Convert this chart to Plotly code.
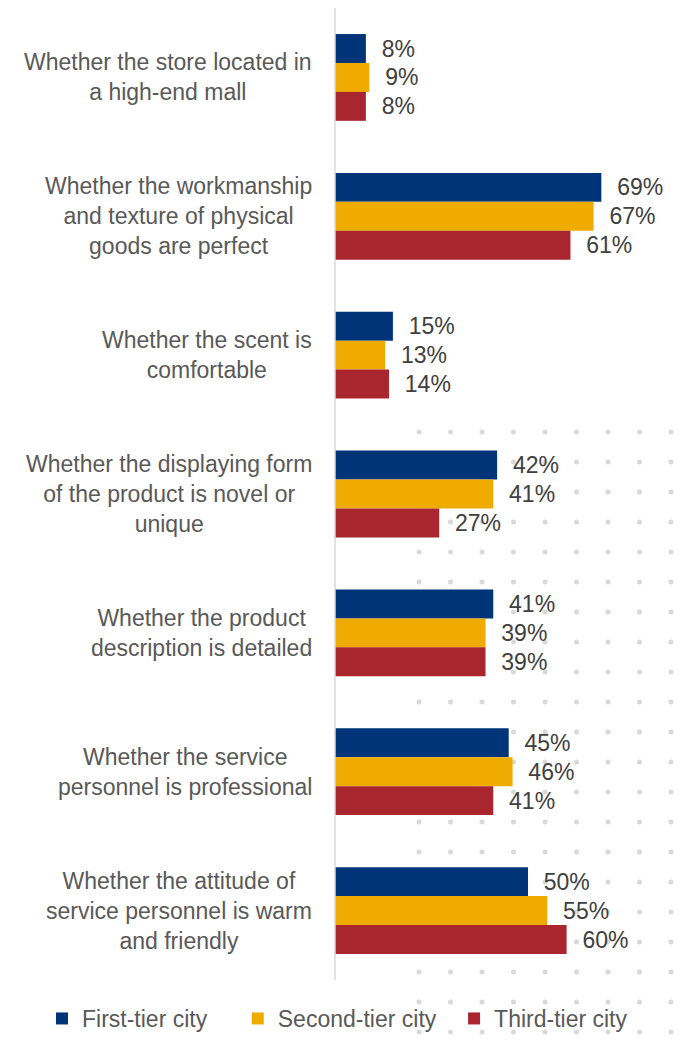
import plotly.graph_objects as go

categories = [
    "Whether the store located in<br>a high-end mall",
    "Whether the workmanship<br>and texture of physical<br>goods are perfect",
    "Whether the scent is<br>comfortable",
    "Whether the displaying form<br>of the product is novel or<br>unique",
    "Whether the product<br>description is detailed",
    "Whether the service<br>personnel is professional",
    "Whether the attitude of<br>service personnel is warm<br>and friendly",
]
first_tier = [8, 69, 15, 42, 41, 45, 50]
second_tier = [8.9, 67, 13, 41, 39, 46, 55]
third_tier = [8, 61, 14, 27, 39, 41, 60]
second_labels = [9, 67, 13, 41, 39, 46, 55]

series = [
    ("First-tier city", first_tier, first_tier, "#003478", 4),
    ("Second-tier city", second_tier, second_labels, "#F0AB00", 2),
    ("Third-tier city", third_tier, third_tier, "#A9262F", 2),
]

# page is offset by the 8px body margin, so the figure is a bit smaller
OFF = 8
W, H = 682 - OFF, 1040 - OFF
ml, mr, mt, mb = 335 - OFF, 7, 8 - OFF, 60
pw = W - ml - mr
ph = H - mt - mb
FONT = "Liberation Sans, Arial, sans-serif"

fig = go.Figure()
for name, vals, labs, col, pad in series:
    fig.add_trace(go.Bar(
        y=list(range(len(categories))), x=vals, name=name + "\u00a0" * pad, orientation="h",
        marker=dict(color=col, line=dict(width=0)),
        text=["\u00a0\u00a0" + str(v) + "%" for v in labs],
        textposition="outside", cliponaxis=False,
        textfont=dict(family=FONT, size=23, color="#404040"),
    ))

# category labels, centred lines like the original
for i, c in enumerate(categories):
    fig.add_annotation(x=0, xref="paper", y=i, yref="y", text=c, showarrow=False,
                       xanchor="right", align="center", xshift=-21,
                       font=dict(family=FONT, size=23, color="#595959"))

# page pixel -> paper coords
def px2x(p):
    return (p - OFF - ml) / pw

def py2y(p):
    return (H - mb - (p - OFF)) / ph

# decorative dot grid in the background
shapes = []
for r in range(21):
    for c in range(9):
        cx = 419 + c * 31.5
        cy = 432 + r * 30
        shapes.append(dict(type="circle", xref="paper", yref="paper", layer="below",
                           x0=px2x(cx - 2.5), x1=px2x(cx + 2.5),
                           y0=py2y(cy + 2.5), y1=py2y(cy - 2.5),
                           fillcolor="#D9D9D9", line=dict(width=0)))
shapes.append(dict(type="rect", xref="paper", yref="paper", layer="above",
                   x0=px2x(674), x1=px2x(676), y0=py2y(1040), y1=py2y(OFF),
                   fillcolor="#D6D6D6", line=dict(width=0)))
shapes.append(dict(type="line", xref="paper", yref="paper", layer="above",
                   x0=0, x1=0, y0=0, y1=1,
                   line=dict(color="#D9D9D9", width=1.5)))

fig.update_layout(
    width=W, height=H,
    margin=dict(l=ml, r=mr, t=mt, b=mb, autoexpand=False),
    paper_bgcolor="white", plot_bgcolor="rgba(0,0,0,0)",
    barmode="group", bargap=0.375, bargroupgap=0,
    shapes=shapes,
    xaxis=dict(range=[0, pw / 3.86], visible=False, fixedrange=True),
    yaxis=dict(autorange="reversed", showticklabels=False, showgrid=False,
               zeroline=False, showline=False, ticks=""),
    showlegend=True,
    legend=dict(orientation="h", x=px2x(42), xanchor="left", y=py2y(1040), yanchor="bottom",
                font=dict(family=FONT, size=23, color="#595959"),
                traceorder="normal", bgcolor="rgba(0,0,0,0)"),
    font=dict(family=FONT),
)

fig.write_html("out.html")
